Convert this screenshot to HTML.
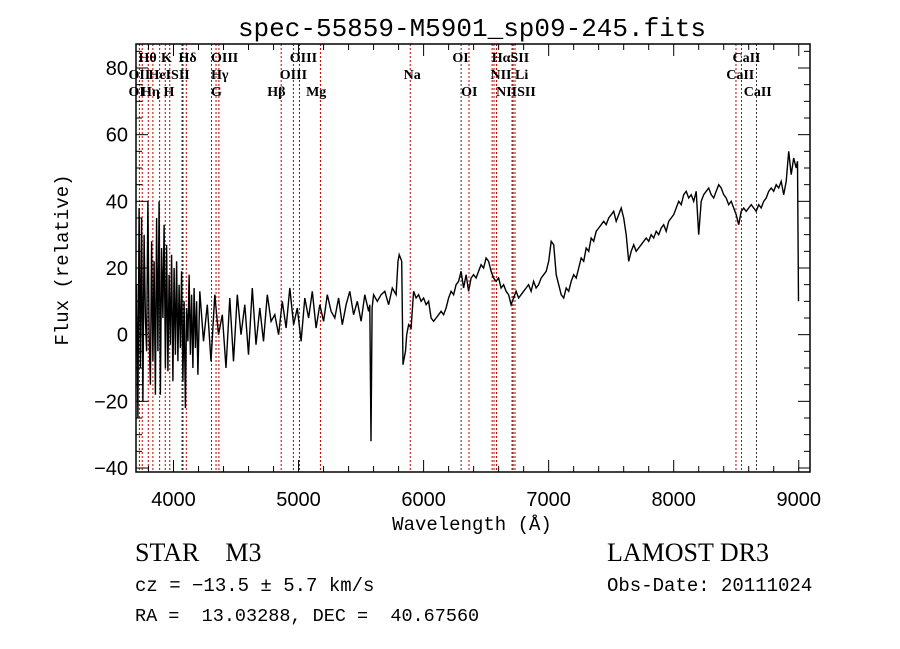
<!DOCTYPE html>
<html><head><meta charset="utf-8"><style>
body{margin:0;background:#fff;width:900px;height:649px;overflow:hidden}
svg{display:block}
text{white-space:pre}
</style></head><body>
<svg id="chart" width="900" height="649" xmlns="http://www.w3.org/2000/svg" xml:space="preserve">
<text x="472" y="36" text-anchor="middle" font-family="Liberation Mono, monospace" font-size="26">spec-55859-M5901_sp09-245.fits</text>
<g id="plot"></g>
<text x="472" y="530" text-anchor="middle" font-family="Liberation Mono, monospace" font-size="19">Wavelength (Å)</text>
<text transform="translate(68,260) rotate(-90)" text-anchor="middle" font-family="Liberation Mono, monospace" font-size="19">Flux (relative)</text>
<text x="135" y="561" font-family="Liberation Serif, serif" font-size="26">STAR    M3</text>
<text x="607" y="561" font-family="Liberation Serif, serif" font-size="26">LAMOST DR3</text>
<text x="135" y="591" font-family="Liberation Mono, monospace" font-size="19">cz = −13.5 ± 5.7 km/s</text>
<text x="607" y="591" font-family="Liberation Mono, monospace" font-size="19">Obs-Date: 20111024</text>
<text x="135" y="621" font-family="Liberation Mono, monospace" font-size="18.5">RA =  13.03288, DEC =  40.67560</text>
</svg>
<script>
const waves=[
3705,3715,3725,3735,3745,3755,3765,3775,3785,3795,
3805,3815,3825,3835,3845,3855,3865,3875,3885,3895,
3905,3915,3925,3935,3945,3955,3965,3975,3985,3995,
4005,4015,4025,4035,4045,4055,4065,4075,4085,4095,
4105,4115,4125,4135,4145,4155,4165,4175,4185,4195,
4210,4240,4270,4300,4330,4360,4390,4420,4450,4480,
4510,4540,4570,4600,4630,4660,4690,4720,4750,4780,
4810,4840,4870,4900,4930,4960,4990,5020,5050,5080,
5110,5140,5170,5200,5230,5260,5290,5320,5350,5380,
5410,5440,5470,5500,5530,5560,5570,5579,5588,5600,
5630,5660,5690,5720,5750,5780,5795,5805,5815,5825,
5835,5845,5855,5865,5880,5900,5920,5940,5960,5980,
6000,6020,6040,6060,6080,6100,6120,6140,6160,6180,
6200,6220,6240,6260,6280,6300,6320,6340,6360,6380,
6400,6420,6440,6460,6480,6500,6520,6540,6560,6580,
6600,6620,6640,6660,6680,6700,6720,6740,6760,6780,
6800,6820,6840,6860,6880,6900,6920,6940,6960,6980,
7000,7020,7040,7060,7080,7100,7120,7140,7160,7180,
7200,7220,7240,7260,7280,7300,7320,7340,7360,7380,
7400,7420,7440,7460,7480,7500,7520,7540,7560,7580,
7600,7620,7640,7660,7680,7700,7720,7740,7760,7780,
7800,7820,7840,7860,7880,7900,7920,7940,7960,7980,
8000,8020,8040,8060,8080,8100,8120,8140,8160,8180,
8200,8220,8240,8260,8280,8300,8320,8340,8360,8380,
8400,8420,8440,8460,8480,8500,8520,8540,8560,8580,
8600,8620,8640,8660,8680,8700,8720,8740,8760,8780,
8800,8820,8840,8860,8880,8900,8920,8940,8960,8980,
8990,8998];
const fluxes=[
15,-25,38,-10,35,-20,30,5,-5,40,
0,-15,28,-8,22,-18,35,-5,40,-18,
26,5,33,-10,27,-11,18,-3,24,-14,
20,-6,22,-8,15,-4,19,-14,10,-22,
8,-2,18,-6,12,-10,14,-4,10,-12,
13,-2,9,-8,12,0,6,-10,11,-8,
12,0,9,-6,14,-3,8,-2,12,4,
6,0,10,2,14,3,8,-2,11,5,
13,2,9,4,12,7,5,11,3,9,
13,6,10,4,12,7,9,-32,8,12,
10,12,13,9,14,12,22,24,23,22,
-9,-7,-5,0,3,2,13,11,12,10,
11,9,10,5,4,5,6,7,6,8,
11,13,12,15,16,19,14,18,13,17,
18,17,19,21,20,23,22,19,17,16,
17,14,15,13,12,9,11,13,11,12,
13,14,15,13,16,14,15,17,18,19,
22,28,27,18,15,12,11,14,13,16,
18,17,20,23,22,26,25,29,28,31,
32,33,34,33,35,36,37,34,36,38,
35,30,22,25,27,25,26,27,28,29,
28,30,29,31,30,32,33,31,34,35,
36,38,40,39,42,43,41,42,40,43,
30,40,42,43,44,42,41,43,45,44,
42,41,39,40,38,36,33,37,38,37,
38,39,38,37,39,38,40,41,43,44,
43,45,44,46,42,46,55,48,53,50,
52,10];
const yTicks=[-40,-20,0,20,40,60,80];
const xTicks=[4000,5000,6000,7000,8000,9000];
const lineWaves=[3727,3750,3798,3835,3889,3934,3970,4068,4076,4102,4304,4340,4363,4861,4959,5007,5175,5893,6300,6363,6548,6563,6583,6707,6716,6731,8498,8542,8662];
const lineBlack=[0,0,0,0,0,0,0,1,1,0,0,0,0,0,0,1,0,0,1,0,0,0,0,0,1,0,0,0,1];
const labelTexts=["Hθ","K","Hδ","OIII","OIII","OI","HαSII","CaII","OII","HeISII","Hγ","OIII","Na","NII Li","CaII","OI","Hη","H","G","Hβ","Mg","OI","NIISII","CaII"];
const labelWaves=[3720,3900,4040,4300,4930,6230,6545,8470,3640,3800,4300,4850,5840,6535,8420,3640,3740,3920,4300,4750,5060,6300,6580,8560];
const labelRows=[0,0,0,0,0,0,0,0,1,1,1,1,1,1,1,2,2,2,2,2,2,2,2,2];

const L=136,R=810,T=44,B=472,X0=3700,X1=9090,Y0=-41.2,Y1=87.2;
const sx=w=>L+(w-X0)/(X1-X0)*(R-L);
const sy=v=>B-(v-Y0)/(Y1-Y0)*(B-T);
const NS='http://www.w3.org/2000/svg';
const g=document.getElementById('plot');
function mk(t,a){const e=document.createElementNS(NS,t);for(const k in a)e.setAttribute(k,a[k]);g.appendChild(e);return e;}
lineWaves.forEach((w,i)=>{
  const e=mk('line',{x1:sx(w),x2:sx(w),y1:T,y2:B,stroke:lineBlack[i]?'#333':'#c00000','stroke-width':1,'stroke-dasharray':'2,2'});
  
  
});
labelTexts.forEach((t,i)=>{
  const e=mk('text',{x:sx(labelWaves[i]),y:62+labelRows[i]*17,'font-family':'Liberation Serif, serif','font-size':14,'font-weight':'bold'});
  e.textContent=t;
  
  
});
let d='';
waves.forEach((w,i)=>{d+=(i?'L':'M')+sx(w).toFixed(1)+','+sy(fluxes[i]).toFixed(1);});
const p=mk('path',{d:d,fill:'none',stroke:'#000','stroke-width':1.4});


const f=mk('rect',{x:L,y:T,width:R-L,height:B-T,fill:'none',stroke:'#000','stroke-width':1.5});


for(let w=3800;w<=X1;w+=200){const maj=w%1000===0;
  mk('line',{x1:sx(w),x2:sx(w),y1:B,y2:B-(maj?12:6),stroke:'#000'});
  mk('line',{x1:sx(w),x2:sx(w),y1:T,y2:T+(maj?12:6),stroke:'#000'});}
xTicks.forEach(w=>{const e=mk('text',{x:sx(w),y:B+34,'text-anchor':'middle','font-family':'Liberation Sans, sans-serif','font-size':20});e.textContent=w;
  
  });
for(let v=-40;v<=85;v+=5){const maj=v%20===0;
  mk('line',{x1:L,x2:L+(maj?12:6),y1:sy(v),y2:sy(v),stroke:'#000'});
  mk('line',{x1:R,x2:R-(maj?12:6),y1:sy(v),y2:sy(v),stroke:'#000'});}
yTicks.forEach(v=>{const e=mk('text',{x:128,y:sy(v)+7,'text-anchor':'end','font-family':'Liberation Sans, sans-serif','font-size':20});e.textContent=v<0?'\u2212'+(-v):v;
  
  });
</script>
</body></html>
